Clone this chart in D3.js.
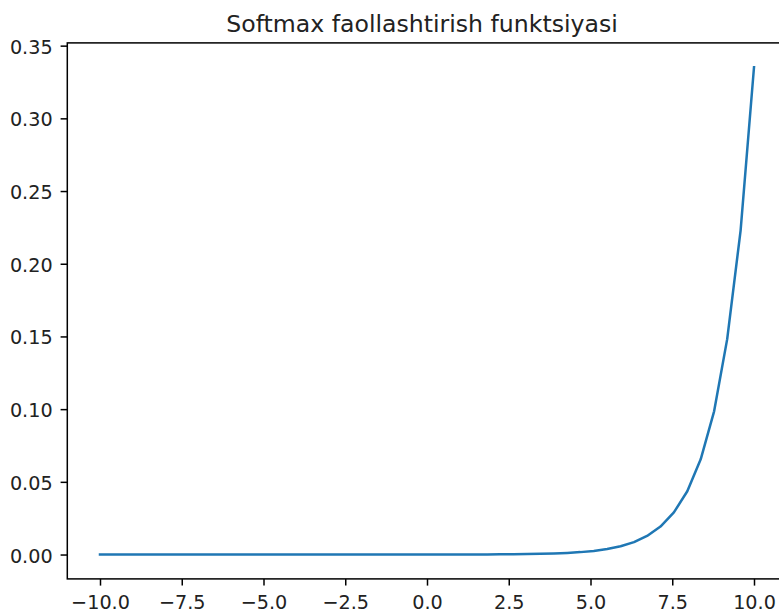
<!DOCTYPE html>
<html>
<head>
<meta charset="utf-8">
<script src="https://cdn.jsdelivr.net/npm/d3@7.9.0/dist/d3.min.js"></script>
<style>
  body { margin: 0; background: #fff; }
  svg { display: block; font-family: "DejaVu Sans", sans-serif; }
</style>
</head>
<body>
<div id="vis"></div>
<script>
// softmax curve, 50 points
const xValues = [
  -10.0, -9.59, -9.18, -8.78, -8.37, -7.96, -7.55, -7.14, -6.73, -6.33,
  -5.92, -5.51, -5.10, -4.69, -4.29, -3.88, -3.47, -3.06, -2.65, -2.24,
  -1.84, -1.43, -1.02, -0.61, -0.20, 0.20, 0.61, 1.02, 1.43, 1.84,
  2.24, 2.65, 3.06, 3.47, 3.88, 4.29, 4.69, 5.10, 5.51, 5.92,
  6.33, 6.73, 7.14, 7.55, 7.96, 8.37, 8.78, 9.18, 9.59, 10.0
];
const yValues = [
  0, 0, 0, 0, 0, 0, 0, 0, 0, 0,
  0, 0, 0, 0, 0, 0, 0, 0, 0, 0,
  0, 0.00001, 0.00001, 0.00001, 0.00002, 0.00003, 0.00004, 0.00006, 0.00007, 0.00010,
  0.00014, 0.00022, 0.00032, 0.00049, 0.00074, 0.00111, 0.00166, 0.00250, 0.00376, 0.00566,
  0.00851, 0.01280, 0.01925, 0.02895, 0.04354, 0.06549, 0.09850, 0.14815, 0.22282, 0.33513
];

const xTicks = [-10.0, -7.5, -5.0, -2.5, 0.0, 2.5, 5.0, 7.5, 10.0];
const yTicks = [0.00, 0.05, 0.10, 0.15, 0.20, 0.25, 0.30, 0.35];
const title = "Softmax faollashtirish funktsiyasi";

const width = 779;
const height = 612;
const plot = { left: 67.3, right: 786.7, top: 42.9, bottom: 578.9 };
const tickLen = 6.7;

const xScale = d3.scaleLinear().domain([-11, 11]).range([plot.left, plot.right]);
const yScale = d3.scaleLinear().domain([-0.016757, 0.351888]).range([plot.bottom, plot.top]);

const svg = d3
  .select("#vis")
  .append("svg")
  .attr("width", width)
  .attr("height", height);

const data = xValues.map((x, i) => ({ x: x, y: yValues[i] }));

// line
const line = d3
  .line()
  .x((d) => xScale(d.x))
  .y((d) => yScale(d.y));

svg
  .append("path")
  .datum(data)
  .attr("fill", "none")
  .attr("stroke", "#1f77b4")
  .attr("stroke-width", 2.5)
  .attr("stroke-linejoin", "round")
  .attr("stroke-linecap", "square")
  .attr("d", line);

// axes
const xAxis = svg
  .append("g")
  .attr("transform", `translate(0,${plot.bottom})`)
  .call(
    d3.axisBottom(xScale)
      .tickValues(xTicks)
      .tickFormat(d3.format(".1f"))
      .tickSize(tickLen)
      .tickPadding(10.2)
  );

const yAxis = svg
  .append("g")
  .attr("transform", `translate(${plot.left},0)`)
  .call(
    d3.axisLeft(yScale)
      .tickValues(yTicks)
      .tickFormat(d3.format(".2f"))
      .tickSize(tickLen)
      .tickPadding(8)
  );

[xAxis, yAxis].forEach((g) => {
  g.select(".domain").remove();
  g.selectAll(".tick line").attr("stroke", "#000").attr("stroke-width", 1.5);
  g.selectAll(".tick text")
    .attr("fill", "#222")
    .style("font-family", "DejaVu Sans")
    .style("font-size", "19.2px");
});
yAxis.selectAll(".tick text").attr("dy", "0.39em");

// spines
svg
  .append("rect")
  .attr("x", plot.left)
  .attr("y", plot.top)
  .attr("width", plot.right - plot.left)
  .attr("height", plot.bottom - plot.top)
  .attr("fill", "none")
  .attr("stroke", "#000")
  .attr("stroke-width", 1.5);

// title
svg
  .append("text")
  .attr("x", 422)
  .attr("y", 32)
  .attr("text-anchor", "middle")
  .attr("fill", "#222")
  .style("font-size", "23.6px")
  .text(title);
</script>
</body>
</html>
